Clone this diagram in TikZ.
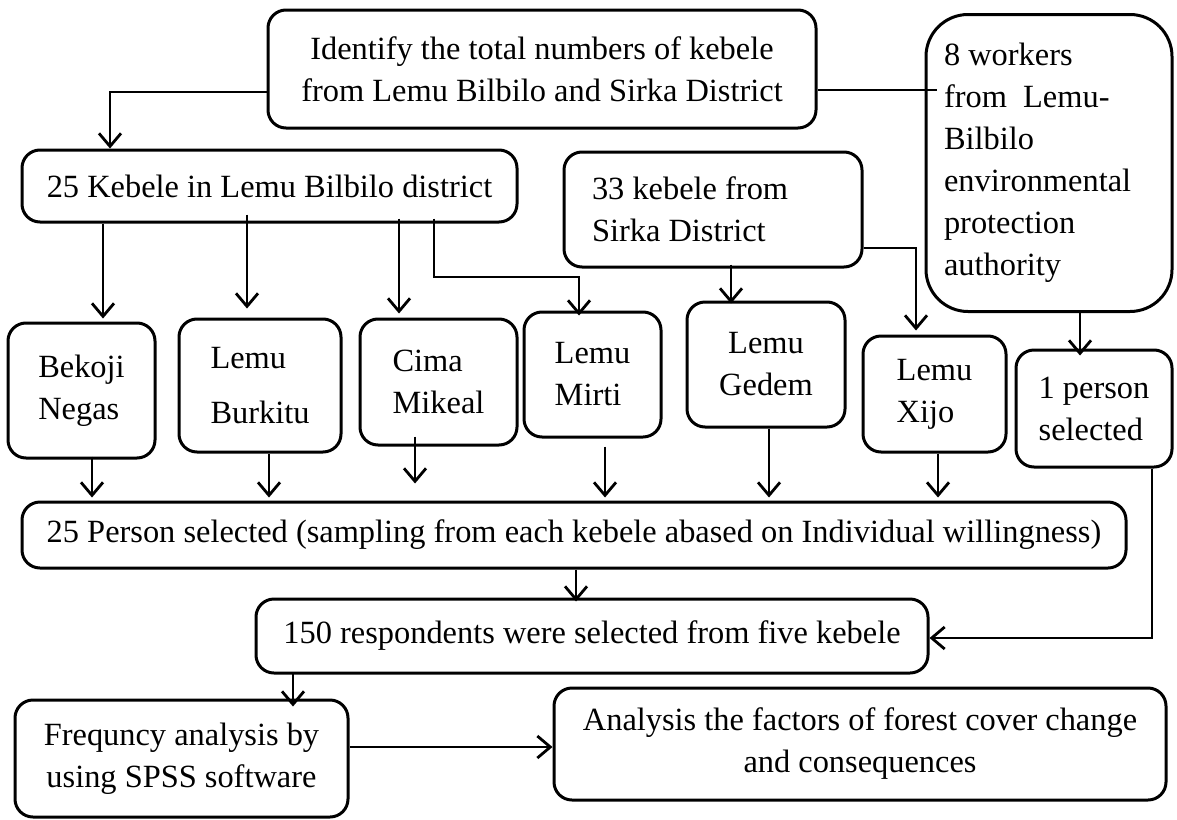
\documentclass[tikz,border=0pt]{standalone}
\usepackage{fontspec}
\setmainfont{Liberation Serif}
\usetikzlibrary{arrows.meta}
\newcommand\boxfont{\fontsize{32.4}{42}\selectfont}
\begin{document}
\begin{tikzpicture}[x=1pt,y=-1pt,
  box/.style={draw, line width=3pt, rounded corners=18pt, inner sep=0pt,
    align=flush left, font=\boxfont},
  arr/.style={line width=2.8pt, -{Straight Barb[length=13pt,width=22pt]}},
  link/.style={line width=2.8pt}]
\fill[white] (0,0) rectangle (1177,819);
\useasboundingbox (0,0) rectangle (1177,819);

% boxes, placed by centre and sized from their corners
\node[box, align=center, minimum width=548, minimum height=118] (identify) at (542,69)
  {Identify the total numbers of kebele\\from Lemu Bilbilo and Sirka District};
\node[box, rounded corners=42pt, minimum width=246, minimum height=297, text width=210]
  (workers) at (1049,163)
  {8 workers\\from \ Lemu-\\Bilbilo\\environmental\\protection\\authority};
\node[box, align=center, minimum width=495, minimum height=72] (kebele25) at (269.5,186)
  {25 Kebele in Lemu Bilbilo district};
\node[box, minimum width=298, minimum height=115, text width=242] (sirka) at (713,209.5)
  {33 kebele from\\Sirka District};

\node[box, minimum width=147, minimum height=135] (bekoji) at (81.5,390.5) {Bekoji\\Negas};
\node[box, minimum width=162, minimum height=133] (burkitu) at (260,385.5) {Lemu\\[13pt]Burkitu};
\node[box, minimum width=157, minimum height=126] (cima) at (438.5,382) {Cima\\Mikeal};
\node[box, minimum width=137, minimum height=125] (mirti) at (592.5,374.5) {Lemu\\Mirti};
\node[box, align=center, minimum width=158, minimum height=125] (gedem) at (766,364.5) {Lemu\\Gedem};
\node[box, minimum width=143, minimum height=116] (xijo) at (934.5,394) {Lemu\\Xijo};
\node[box, minimum width=156, minimum height=117] (person1) at (1094,408.5) {1 person\\selected};

\node[box, align=center, minimum width=1104, minimum height=66] (person25) at (574,535)
  {25 Person selected (sampling from each kebele abased on Individual willingness)};
\node[box, align=center, minimum width=672, minimum height=74] (resp150) at (592,636)
  {150 respondents were selected from five kebele};
\node[box, align=center, minimum width=333, minimum height=117] (freq) at (181.5,758.5)
  {Frequncy analysis by\\using SPSS software};
\node[box, align=center, minimum width=612, minimum height=112] (analysis) at (860,744)
  {Analysis the factors of forest cover change\\and consequences};

% connectors
\draw[arr] (identify.west |- 0,92) -- (110,92) -- (110,0 |- kebele25.north);
\draw[link] (identify.east |- 0,90) -- ([xshift=12pt]workers.west |- 0,90);

\draw[arr, shorten >=3pt] (103,0 |- kebele25.south) -- (103,0 |- bekoji.north);
\draw[arr, shorten <=-9pt, shorten >=9pt] (247,0 |- kebele25.south) -- (247,0 |- burkitu.north);
\draw[arr, shorten <=-5pt, shorten >=4pt] (399,0 |- kebele25.south) -- (399,0 |- cima.north);
\draw[arr, shorten <=-5pt, shorten >=-5pt] (434,0 |- kebele25.south) -- (434,277) -- (579,277) -- (579,0 |- mirti.north);
\draw[arr, shorten <=-4pt, shorten >=-3pt] (731,0 |- sirka.south) -- (731,0 |- gedem.north);
\draw[arr, shorten >=4pt] (sirka.east |- 0,248) -- (916,248) -- (916,0 |- xijo.north);
\draw[arr, shorten >=-7pt] (1080,0 |- workers.south) -- (1080,0 |- person1.north);

\draw[arr, shorten <=-3pt, shorten >=3pt] (92,0 |- bekoji.south) -- (92,0 |- person25.north);
\draw[arr, shorten >=3pt] (269,0 |- burkitu.south) -- (269,0 |- person25.north);
\draw[arr, shorten <=-10pt, shorten >=17pt] (415,0 |- cima.south) -- (415,0 |- person25.north);
\draw[arr, shorten <=8pt, shorten >=3pt] (605,0 |- mirti.south) -- (605,0 |- person25.north);
\draw[arr, shorten >=3pt] (769,0 |- gedem.south) -- (769,0 |- person25.north);
\draw[arr, shorten >=3pt] (938,0 |- xijo.south) -- (938,0 |- person25.north);

\draw[arr, shorten >=-4pt] (576,0 |- person25.south) -- (576,0 |- resp150.north);
\draw[arr] (1152,0 |- person1.south) -- (1152,638) -- (resp150.east |- 0,638);
\draw[arr, shorten <=-1pt, shorten >=-8pt] (293,0 |- resp150.south) -- (293,0 |- freq.north);
\draw[arr] (freq.east |- 0,747) -- (analysis.west |- 0,747);
\end{tikzpicture}
\end{document}
